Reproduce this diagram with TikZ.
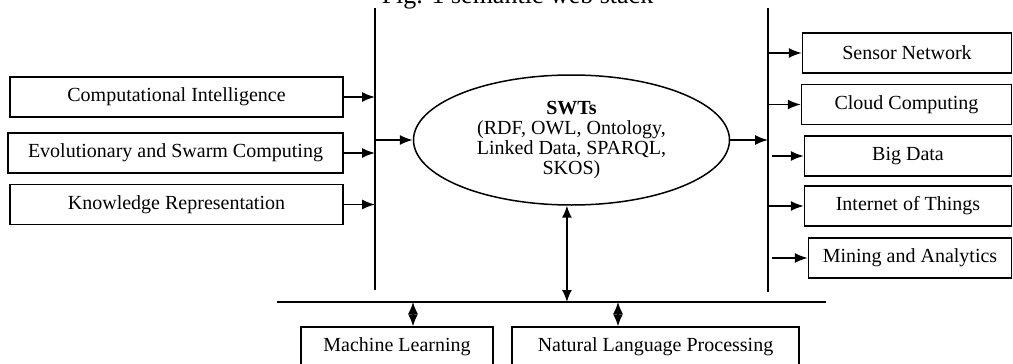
\documentclass[tikz,border=0pt]{standalone}
\usepackage{fontspec}
\setmainfont{Liberation Serif}
\usetikzlibrary{positioning, shapes.geometric, arrows.meta}

\tikzset{
  field/.style={draw, rectangle, line width=1.5pt, minimum height=40pt,
    inner sep=0pt, font=\fontsize{20}{20}\selectfont},
  link/.style={line width=1.5pt, -{Latex[length=13pt,width=10pt]}},
  both/.style={line width=1.5pt,
    {Latex[length=12pt,width=10pt]}-{Latex[length=12pt,width=10pt]}},
  rail/.style={line width=1.5pt},
}

\begin{document}
\begin{tikzpicture}[x=1pt, y=-1pt]
    \useasboundingbox (0,0) rectangle (1013,364);
    \node[font=\fontsize{26}{26}\selectfont, anchor=base] (title) at (517.5,3)
    {Fig. 1 semantic web stack};

    % fields feeding in
    \node[field, minimum width=333pt] (ci) at (176.5,97) {Computational Intelligence};
    \node[field, minimum width=335pt] (esc) at (175.5,153) {Evolutionary and Swarm Computing};
    \node[field, minimum width=333pt] (kr) at (176.5,204.5) {Knowledge Representation};

    \node[draw, ellipse, line width=1.5pt, minimum width=316pt, minimum height=130pt,
          inner sep=0pt, align=center, font=\fontsize{20}{20}\selectfont] (swt) at (571.5,140)
    {\textbf{SWTs}\\(RDF, OWL, Ontology,\\Linked Data, SPARQL,\\SKOS)};

    % application areas
    \node[field, minimum width=209pt] (sn) at (907,53) {Sensor Network};
    \node[field, minimum width=210pt] (cc) at (906.5,104.5) {Cloud Computing};
    \node[field, minimum width=207pt] (bd) at (908,156) {Big Data};
    \node[field, minimum width=207pt] (iot) at (908,206) {Internet of Things};
    \node[field, minimum width=203pt] (ma) at (910,258) {Mining and Analytics};

    \node[field, minimum width=192pt] (ml) at (397,347) {Machine Learning};
    \node[field, minimum width=287pt] (nlp) at (655.5,347) {Natural Language Processing};

    \coordinate (ltop) at (375,8);
    \coordinate (lbot) at (375,290);
    \coordinate (rtop) at (768,8);
    \coordinate (rbot) at (768,292);
    \coordinate (bleft) at (277,302);
    \coordinate (bright) at (826,302);
    \coordinate (mlc) at (413,302);
    \coordinate (nlpc) at (618,302);

    \draw[rail] (ltop) -- (lbot);
    \draw[rail] (rtop) -- (rbot);
    \draw[rail] (bleft) -- (bright);

    \draw[link] (ci.east) -- (ci.east -| ltop);
    \draw[link] (esc.east) -- (esc.east -| ltop);
    \draw[link] (kr.east) -- (kr.east -| ltop);
    \draw[link] (ltop |- swt.west) -- (swt.west);
    \draw[link] (swt.east) -- (swt.east -| rtop);

    \draw[link] (rtop |- sn.west) -- (sn.west);
    \draw[link] (rtop |- cc.west) -- (cc.west);
    \draw[link] ([xshift=4pt]rtop |- bd.west) -- (bd.west);
    \draw[link] (rtop |- iot.west) -- (iot.west);
    \draw[link] ([xshift=4pt]rtop |- ma.west) -- (ma.west);

    \draw[both] (swt.266) -- (swt.266 |- bleft);
    \draw[both] (mlc) -- (mlc |- ml.north);
    \draw[both] (nlpc) -- (nlpc |- nlp.north);
\end{tikzpicture}
\end{document}
